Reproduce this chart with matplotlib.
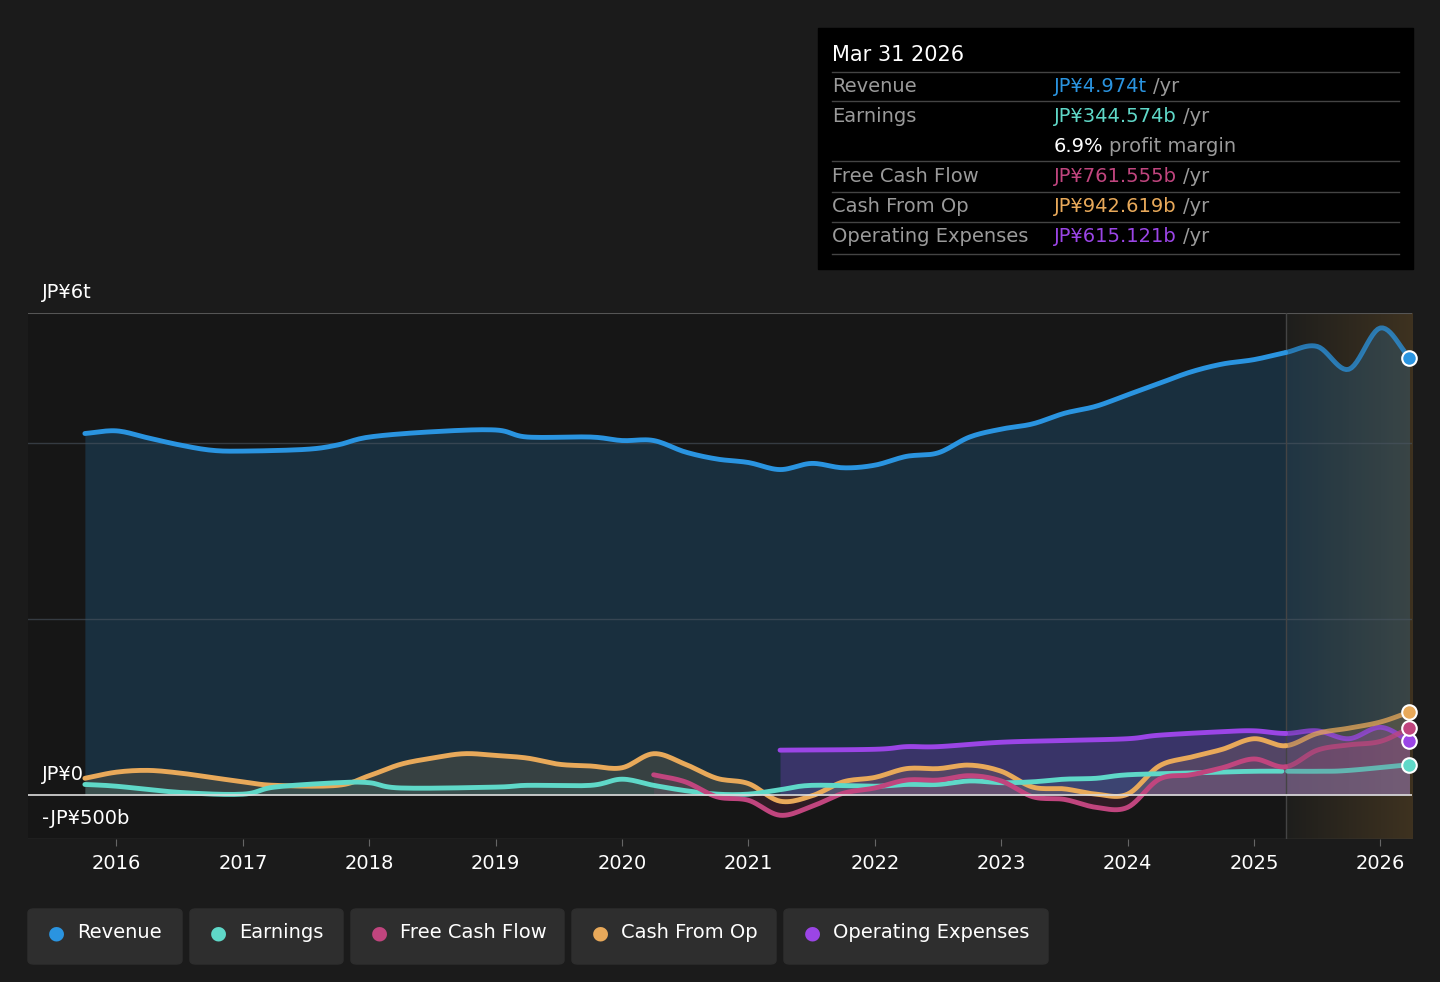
import numpy as np
import matplotlib.pyplot as plt
from matplotlib.patches import FancyBboxPatch, Rectangle

# quarterly data in JP¥ trillions
rev_x = [2015.75, 2016, 2016.25, 2016.5, 2016.75, 2017, 2017.5, 2017.75, 2018, 2018.5, 2019, 2019.25,
         2019.75, 2020, 2020.25, 2020.5, 2020.75, 2021, 2021.25, 2021.5, 2021.75, 2022, 2022.25, 2022.5,
         2022.75, 2023, 2023.25, 2023.5, 2023.75, 2024, 2024.25, 2024.5, 2024.75, 2025, 2025.25, 2025.5,
         2025.75, 2026, 2026.23]
rev = [4.11, 4.14, 4.06, 3.98, 3.92, 3.91, 3.93, 3.98, 4.07, 4.13, 4.15, 4.07, 4.07, 4.03, 4.03, 3.90,
       3.82, 3.78, 3.70, 3.77, 3.72, 3.75, 3.85, 3.89, 4.07, 4.16, 4.22, 4.34, 4.42, 4.55, 4.68, 4.81,
       4.90, 4.95, 5.03, 5.10, 4.84, 5.31, 4.974]

earn_x = [2015.75, 2016, 2016.5, 2017, 2017.25, 2017.75, 2018, 2018.25, 2019, 2019.25, 2019.75, 2020,
          2020.25, 2020.5, 2020.75, 2021, 2021.25, 2021.5, 2022, 2022.25, 2022.5, 2022.75, 2023, 2023.25,
          2023.5, 2023.75, 2024, 2024.5, 2025, 2025.5, 2025.75, 2026.23]
earn = [0.12, 0.10, 0.03, 0.01, 0.09, 0.14, 0.14, 0.08, 0.09, 0.11, 0.11, 0.18, 0.11, 0.05, 0.01, 0.01,
        0.06, 0.11, 0.10, 0.12, 0.12, 0.16, 0.14, 0.15, 0.18, 0.19, 0.23, 0.25, 0.27, 0.27, 0.28, 0.345]

fcf_x = [2020.25, 2020.5, 2020.75, 2021, 2021.25, 2021.5, 2021.75, 2022, 2022.25, 2022.5, 2022.75, 2023,
         2023.25, 2023.5, 2023.75, 2024, 2024.25, 2024.5, 2024.75, 2025, 2025.25, 2025.5, 2025.75, 2026,
         2026.23]
fcf = [0.23, 0.15, -0.02, -0.06, -0.23, -0.13, 0.02, 0.08, 0.17, 0.17, 0.22, 0.16, -0.02, -0.05, -0.14,
       -0.14, 0.18, 0.23, 0.31, 0.41, 0.32, 0.51, 0.57, 0.61, 0.762]

cfo_x = [2015.75, 2016, 2016.25, 2016.5, 2016.75, 2017, 2017.25, 2017.75, 2018, 2018.25, 2018.5, 2018.75,
         2019, 2019.25, 2019.5, 2019.75, 2020, 2020.25, 2020.5, 2020.75, 2021, 2021.25, 2021.5, 2021.75,
         2022, 2022.25, 2022.5, 2022.75, 2023, 2023.25, 2023.5, 2023.75, 2024, 2024.25, 2024.5, 2024.75,
         2025, 2025.25, 2025.5, 2025.75, 2026, 2026.23]
cfo = [0.19, 0.26, 0.28, 0.25, 0.20, 0.15, 0.11, 0.11, 0.22, 0.35, 0.42, 0.47, 0.45, 0.42, 0.35, 0.33,
       0.31, 0.47, 0.35, 0.19, 0.13, -0.07, -0.01, 0.15, 0.20, 0.30, 0.30, 0.34, 0.27, 0.09, 0.07, 0.01,
       0.01, 0.33, 0.43, 0.52, 0.64, 0.56, 0.70, 0.76, 0.83, 0.943]

opex_x = [2021.25, 2022, 2022.25, 2022.5, 2023, 2023.5, 2024, 2024.25, 2024.75, 2025, 2025.25, 2025.5,
          2025.75, 2026, 2026.23]
opex = [0.51, 0.52, 0.55, 0.55, 0.60, 0.62, 0.64, 0.68, 0.72, 0.73, 0.70, 0.73, 0.64, 0.77, 0.615]

years = list(range(2016, 2027))
forecast_start = 2025.25

BG = '#1b1b1b'
fig = plt.figure(figsize=(14.4, 9.82), dpi=100, facecolor=BG)
ax = fig.add_axes([28/1440, 1-839/982, (1412-28)/1440, (839-313)/982])
ax.set_facecolor('#161616')
ax.set_xlim(2015.3, 2026.25)
ax.set_ylim(-0.5, 5.48)

def smooth(x, y, n=12):
    # catmull-rom just for drawing smooth curves through the points
    x = np.asarray(x, float); y = np.asarray(y, float)
    px = np.concatenate([[2*x[0]-x[1]], x, [2*x[-1]-x[-2]]])
    py = np.concatenate([[2*y[0]-y[1]], y, [2*y[-1]-y[-2]]])
    xs, ys = [], []
    t = np.linspace(0, 1, n, endpoint=False)
    for i in range(1, len(px)-2):
        for arr, out in ((px, xs), (py, ys)):
            p0, p1, p2, p3 = arr[i-1:i+3]
            out.extend(0.5*((2*p1) + (-p0+p2)*t + (2*p0-5*p1+4*p2-p3)*t**2 + (-p0+3*p1-3*p2+p3)*t**3))
    xs.append(x[-1]); ys.append(y[-1])
    return np.array(xs), np.array(ys)

for v in [2, 4]:
    ax.axhline(v, color='#4a5560', lw=1, alpha=0.6, zorder=2)
ax.axhline(0, color='#dddddd', lw=1.2, zorder=5)
ax.axhline(5.48, color='#555555', lw=1.5)
ax.axhline(-0.5, color='#444444', lw=1)

# forecast shading
grad = np.linspace(0, 1, 100).reshape(1, -1)
ax.imshow(grad, extent=[forecast_start, 2026.25, -0.5, 5.48], aspect='auto',
          cmap=plt.matplotlib.colors.LinearSegmentedColormap.from_list('f', ['#1e1e1c', '#3e3220']),
          zorder=0.5)
ax.axvline(forecast_start, color='#444444', lw=1)

series = [
    (rev_x, rev, '#2a94e0', 0.2),
    (opex_x, opex, '#9b45e6', 0.25),
    (cfo_x, cfo, '#e8a95a', 0.15),
    (earn_x, earn, '#5fd8c8', 0.1),
    (fcf_x, fcf, '#c0457e', 0.15),
]
for x, y, c, fa in series:
    sx, sy = smooth(x, y)
    ax.fill_between(sx, sy, 0, color=c, alpha=fa, lw=0, zorder=1)
    past = sx <= forecast_start
    ax.plot(sx[past], sy[past], color=c, lw=3.5, zorder=3, solid_capstyle='round')
    fut = sx >= forecast_start - 0.01
    ax.plot(sx[fut], sy[fut], color=c, lw=3.5, alpha=0.75, zorder=3, solid_capstyle='round')
    ax.scatter([x[-1]], [y[-1]], s=110, color=c, edgecolor='white', lw=1.5, zorder=6, clip_on=False)

for s in ax.spines.values():
    s.set_visible(False)
ax.set_yticks([])
ax.set_xticks(years)
ax.set_xticklabels([str(y) for y in years], color='white', fontsize=14)
ax.tick_params(axis='x', length=5, color='#666666', pad=6)

fig.text(42/1440, 1-292/982, 'JP¥6t', color='white', fontsize=14, va='center')
fig.text(42/1440, 1-774/982, 'JP¥0', color='white', fontsize=14, va='center')
fig.text(42/1440, 1-818/982, '-JP¥500b', color='white', fontsize=14, va='center')

# tooltip box
fig.patches.append(Rectangle((818/1440, 1-269/982), (1413-818)/1440, (269-28)/982,
                             transform=fig.transFigure, color='black', zorder=0))
fig.text(832/1440, 1-55/982, 'Mar 31 2026', color='white', fontsize=15, va='center')
rows = [('Revenue', 'JP¥4.974t', '#2a94e0', 87),
        ('Earnings', 'JP¥344.574b', '#5fd8c8', 116),
        ('Free Cash Flow', 'JP¥761.555b', '#c0457e', 176),
        ('Cash From Op', 'JP¥942.619b', '#e8a95a', 207),
        ('Operating Expenses', 'JP¥615.121b', '#9b45e6', 237)]
for name, val, c, yy in rows:
    fig.text(832/1440, 1-yy/982, name, color='#9a9a9a', fontsize=14, va='center')
    fig.text(1054/1440, 1-yy/982, val + ' ', color=c, fontsize=14, va='center')
fig.canvas.draw()
for name, val, c, yy in rows:
    t = fig.text(1054/1440, 1-yy/982, val + ' ', color='none', fontsize=14, va='center')
    bb = t.get_window_extent(renderer=fig.canvas.get_renderer())
    fig.text(bb.x1/1440, 1-yy/982, '/yr', color='#9a9a9a', fontsize=14, va='center')
fig.text(1054/1440, 1-146/982, '6.9%', color='white', fontsize=14, va='center')
fig.text(1109/1440, 1-146/982, 'profit margin', color='#9a9a9a', fontsize=14, va='center')
for yy in [72, 101, 161, 192, 222, 254]:
    fig.add_artist(plt.Line2D([832/1440, 1399/1440], [1-yy/982]*2, color='#444444', lw=1))

# legend buttons
legend = [('Revenue', '#2a94e0', 28, 182), ('Earnings', '#5fd8c8', 190, 343),
          ('Free Cash Flow', '#c0457e', 351, 564), ('Cash From Op', '#e8a95a', 572, 776),
          ('Operating Expenses', '#9b45e6', 784, 1048)]
for name, c, x0, x1 in legend:
    fig.patches.append(FancyBboxPatch((x0/1440, 1-964/982), (x1-x0)/1440, 55/982,
                                      boxstyle='round,pad=0,rounding_size=0.004',
                                      transform=fig.transFigure, color='#2e2e2e'))
    fig.text((x0+28)/1440, 1-933/982, '●', color=c, fontsize=14, va='center', ha='center')
    fig.text((x0+49)/1440, 1-933/982, name, color='white', fontsize=14, va='center')

fig.savefig('out.png', dpi=100, facecolor=BG)
